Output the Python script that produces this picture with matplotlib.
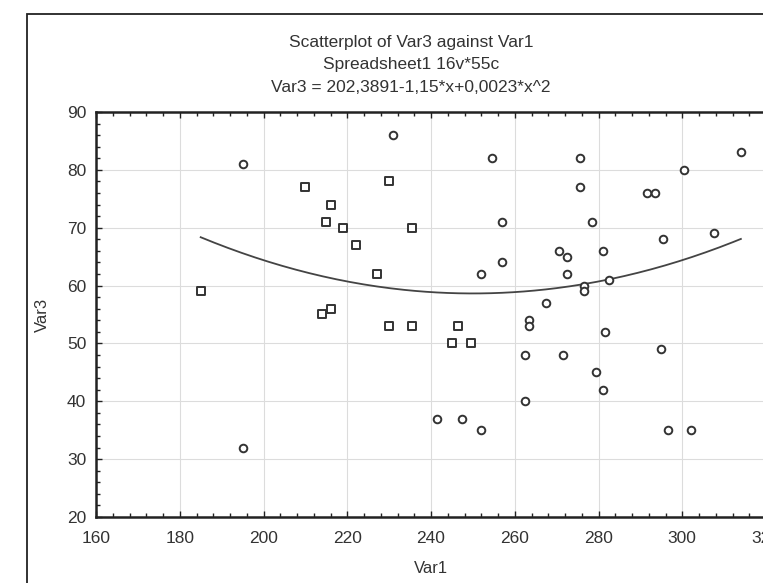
import numpy as np
import matplotlib
matplotlib.use("Agg")
import matplotlib.pyplot as plt
from matplotlib.patches import Rectangle
from matplotlib.ticker import MultipleLocator

plt.rcParams['font.family'] = ['Liberation Sans', 'DejaVu Sans']

# Var1 / Var3 - två grupper av markörer (kvadrater och cirklar)
sq_var1 = [185, 210, 214, 215, 216, 216, 219, 222, 227, 230, 230, 235.5, 235.5, 245, 246.5, 249.5]
sq_var3 = [59, 77, 55, 71, 74, 56, 70, 67, 62, 78, 53, 70, 53, 50, 53, 50]

ci_var1 = [195, 195, 231, 241.5, 247.5, 252, 252, 254.5, 257, 257, 262.5, 262.5, 263.5, 263.5,
           267.5, 270.5, 271.5, 272.5, 272.5, 275.5, 275.5, 276.5, 276.5, 278.5, 279.5, 281, 281,
           281.5, 282.5, 291.5, 293.5, 295, 295.5, 296.5, 300.5, 302, 307.5, 314]
ci_var3 = [81, 32, 86, 37, 37, 35, 62, 82, 71, 64, 48, 40, 54, 53,
           57, 66, 48, 65, 62, 82, 77, 60, 59, 71, 45, 66, 42,
           52, 61, 76, 76, 49, 68, 35, 80, 35, 69, 83]

# Anpassad kurva: Var3 = 202,3891 - 1,15*x + 0,0023*x^2
coef = [202.3891, -1.15, 0.0023]

W, H = 763, 583
fig = plt.figure(figsize=(W / 100, H / 100), dpi=100)

# ram runt hela diagrammet
fig.patches.append(Rectangle((27 / W, -0.1), 2, 1.1 - 14 / H, transform=fig.transFigure,
                             fill=False, lw=1.3, ec="#222222"))

ax = fig.add_axes([96 / W, (H - 517) / H, (766 - 96) / W, (517 - 112) / H])

alla_x = sq_var1 + ci_var1
xs = np.linspace(min(alla_x), max(alla_x), 200)
ys = coef[0] + coef[1] * xs + coef[2] * xs ** 2
ax.plot(xs, ys, color="#444444", lw=1.3, zorder=2)

ax.scatter(sq_var1, sq_var3, marker="s", s=28, facecolors="white", edgecolors="#333333",
           linewidths=1.4, zorder=3)
ax.scatter(ci_var1, ci_var3, marker="o", s=30, facecolors="white", edgecolors="#333333",
           linewidths=1.4, zorder=3)

ax.set_xlim(160, 320)
ax.set_ylim(20, 90)
ax.xaxis.set_major_locator(MultipleLocator(20))
ax.xaxis.set_minor_locator(MultipleLocator(4))
ax.yaxis.set_major_locator(MultipleLocator(10))
ax.yaxis.set_minor_locator(MultipleLocator(2))
ax.tick_params(which="both", direction="in", top=True, right=False, colors="#222222",
               labelsize=12.5, labelcolor="#333333")
ax.tick_params(which="major", length=4, width=1)
ax.tick_params(which="minor", length=3, width=1)
ax.tick_params(axis="x", pad=10)
ax.tick_params(axis="y", pad=7)
ax.grid(True, which="major", color="#dcdcdc", lw=0.8)
ax.set_axisbelow(True)
for side in ["left", "top", "bottom"]:
    ax.spines[side].set_linewidth(1.8)
    ax.spines[side].set_color("#222222")

ax.set_xlabel("Var1", fontsize=12, color="#333333", labelpad=11)
ax.set_ylabel("Var3", fontsize=12, color="#333333", labelpad=12)

# titelrader
fig.text(411 / W, 1 - 42 / H, "Scatterplot of Var3 against Var1", ha="center", va="center",
         fontsize=12.5, color="#333333")
fig.text(411 / W, 1 - 65 / H, "Spreadsheet1 16v*55c", ha="center", va="center",
         fontsize=12.5, color="#333333")
fig.text(411 / W, 1 - 88 / H, "Var3 = 202,3891-1,15*x+0,0023*x^2", ha="center", va="center",
         fontsize=12.5, color="#333333")

fig.savefig("out.png", dpi=100)
